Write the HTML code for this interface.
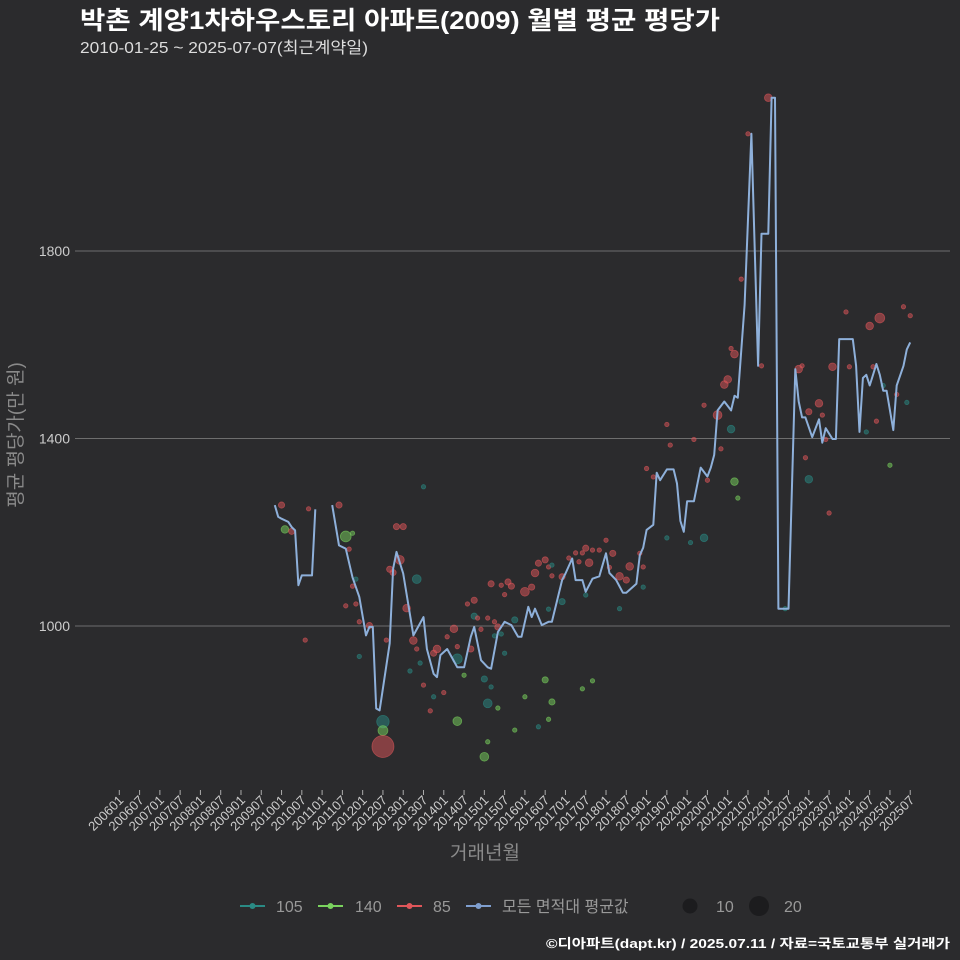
<!DOCTYPE html>
<html><head><meta charset="utf-8">
<style>
html,body{margin:0;padding:0;background:#2b2b2d;}
svg{display:block;font-family:"Liberation Sans","Noto Sans CJK KR",sans-serif;}
</style></head>
<body>
<svg id="chart" width="960" height="960" viewBox="0 0 960 960">
<rect x="0" y="0" width="960" height="960" fill="#2b2b2d"/>
<text x="80" y="29" font-size="25" font-weight="bold" fill="#ffffff" textLength="640" lengthAdjust="spacingAndGlyphs">박촌 계양1차하우스토리 아파트(2009) 월별 평균 평당가</text>
<text x="80" y="53" font-size="16" fill="#dddddd" textLength="288" lengthAdjust="spacingAndGlyphs">2010-01-25 ~ 2025-07-07(최근계약일)</text>
<g id="grid"></g>
<g id="yticks"></g>
<g id="xticks"></g>
<g id="points"></g>
<g id="line"></g>
<text transform="translate(22,435) rotate(-90)" text-anchor="middle" font-size="19" fill="#8a8a8a">평균 평당가(만 원)</text>
<text x="485" y="859" text-anchor="middle" font-size="19" fill="#8a8a8a">거래년월</text>
<g>
 <g><line x1="240" y1="906" x2="265" y2="906" stroke="#2a8a84" stroke-width="2"/><circle cx="252.5" cy="906" r="3" fill="#2a8a84"/><text x="276" y="912" font-size="16" fill="#999">105</text></g>
 <g><line x1="318" y1="906" x2="343" y2="906" stroke="#7ad35e" stroke-width="2"/><circle cx="330.5" cy="906" r="3" fill="#7ad35e"/><text x="355" y="912" font-size="16" fill="#999">140</text></g>
 <g><line x1="397" y1="906" x2="422" y2="906" stroke="#e0565a" stroke-width="2"/><circle cx="409.5" cy="906" r="3" fill="#e0565a"/><text x="433" y="912" font-size="16" fill="#999">85</text></g>
 <g><line x1="466" y1="906" x2="491" y2="906" stroke="#7f9fcf" stroke-width="2"/><circle cx="478.5" cy="906" r="3" fill="#7f9fcf"/><text x="502" y="912" font-size="16" fill="#999">모든 면적대 평균값</text></g>
 <g><circle cx="690" cy="906" r="7.5" fill="#1c1c1e"/><text x="716" y="912" font-size="16" fill="#999">10</text></g>
 <g><circle cx="759" cy="906" r="10" fill="#1c1c1e"/><text x="784" y="912" font-size="16" fill="#999">20</text></g>
</g>
<text x="950" y="948" text-anchor="end" font-size="13" font-weight="bold" fill="#ffffff" textLength="404" lengthAdjust="spacingAndGlyphs">©디아파트(dapt.kr) / 2025.07.11 / 자료=국토교통부 실거래가</text>
</svg>
<script>
// months are indices since 2006-01
const yTicks = [1000, 1400, 1800];
const lineMonth = [46,47,48,50,51,52,53,54,57,58,60,63,65,67,69,71,73,74,75,76,77,80,81,82,84,87,90,91,93,94,95,97,100,102,104,105,107,109,110,112,114,116,118,119,121,122,123,125,127,128,131,132,134,135,137,138,140,142,144,145,147,149,150,153,154,155,156,158,159,160,162,164,165,166,167,168,170,172,174,175,176,177,179,181,182,183,185,187,189,190,192,193,194,195,198,200,201,202,203,205,207,208,209,211,212,213,217,218,219,220,221,222,224,225,226,227,229,230,232,233,234];
const lineValue = [1258,1233,1229,1222,1211,1204,1087,1108,1108,1249,null,1258,1172,1165,1104,1062,980,998,998,824,820,963,1122,1158,1112,980,1019,951,898,891,938,951,912,912,977,998,927,912,909,987,1009,1002,977,977,1041,1019,1037,1002,1009,1009,1098,1112,1144,1098,1098,1073,1101,1106,1155,1113,1098,1071,1071,1090,1151,1167,1205,1216,1327,1311,1334,1334,1304,1224,1201,1266,1266,1338,1319,1338,1365,1460,1479,1460,1491,1487,1685,2050,1555,1837,1837,2127,2127,1037,1037,1548,1479,1445,1445,1403,1441,1391,1422,1399,1399,1612,1612,1555,1414,1529,1536,1513,1559,1536,1502,1502,1418,1513,1555,1590,1605];
// scatter: month, value, area type, count
const ptMonth = [48,56,49,51,65,67,69,68,70,69,67,70,71,74,55,71,79,82,84,83,80,81,88,90,85,87,88,86,89,90,93,92,96,94,93,97,99,100,100,102,100,103,105,105,106,109,107,104,108,110,109,112,109,108,110,113,115,116,114,111,112,111,113,117,114,120,122,117,120,124,126,127,128,123,124,126,127,128,128,127,131,131,133,135,137,136,138,139,140,142,137,140,138,144,146,151,148,150,145,155,154,156,158,155,148,162,163,162,169,173,170,173,174,177,178,179,180,181,182,181,182,183,184,186,190,192,201,202,204,207,208,203,204,210,209,211,215,216,222,225,223,221,224,226,228,230,232,234,233,197,78,78,78];
const ptValue = [1258,1250,1206,1202,1258,1191,1198,1164,1100,1085,1043,1047,1009,1001,970,935,970,1212,1212,1141,1121,1114,1100,1297,1038,969,951,904,921,874,849,819,858,951,942,977,994,956,930,895,797,1047,1055,1021,1017,1017,993,951,887,870,835,825,753,721,1090,1087,1094,1085,1067,1009,998,979,983,1013,942,1073,1083,778,849,785,885,801,838,1113,1134,1141,1126,1107,1130,1036,1105,1052,1145,1156,1156,1137,1166,1135,1162,1162,866,883,1066,1183,1155,1127,1106,1098,1125,1126,1155,1336,1318,1083,1037,1430,1386,1188,1178,1188,1398,1471,1311,1450,1378,1515,1526,1592,1580,1420,1308,1273,1740,2050,1555,2127,1548,1555,1457,1475,1450,1359,1313,1241,1398,1553,1670,1553,1640,1657,1553,1414,1437,1513,1343,1494,1681,1662,1477,1037,796,777,743];
const ptType = ["85","85","140","85","85","140","140","85","105","85","85","85","85","85","85","105","85","85","85","85","85","85","105","105","85","85","85","105","105","85","105","85","85","85","85","85","85","85","105","140","140","85","85","105","85","85","85","85","105","105","105","140","140","140","85","85","85","85","85","85","85","105","105","105","105","85","85","140","140","105","140","140","140","85","85","85","85","85","105","105","85","105","85","85","85","85","85","85","85","85","140","140","105","85","85","85","85","85","85","85","85","85","85","105","105","85","85","105","105","105","85","85","85","85","85","85","85","85","85","105","140","140","85","85","85","85","85","85","85","85","85","85","105","85","85","85","85","85","85","85","85","105","85","105","140","85","85","85","105","105","105","140","85"];
const ptCount = [2,1,3,2,2,6,1,1,1,1,1,1,1,2,1,1,1,2,2,4,2,2,4,1,3,3,1,1,1,1,1,1,1,3,2,1,3,1,5,1,4,1,2,2,1,1,1,2,2,1,4,1,1,4,2,1,2,2,1,1,2,1,1,2,1,4,2,1,1,1,2,1,2,3,2,2,1,1,1,1,2,2,1,1,1,1,2,3,1,1,1,1,1,1,2,3,3,2,1,1,1,1,1,1,1,1,1,1,1,3,1,1,1,4,1,3,3,1,3,3,3,1,1,1,1,3,3,1,2,3,1,1,3,1,1,3,1,1,3,5,1,1,1,1,1,1,1,1,1,1,8,5,25];

const S = "http://www.w3.org/2000/svg";
const X0 = 119.3, DX = 3.38;
function xs(m){ return X0 + m*DX; }
function ys(v){ return 626 - (v-1000)*0.46875; }
const colors = {"105":"#2a8a84","140":"#7ad35e","85":"#e0565a"};
function mk(tag, attrs, parent){ const e=document.createElementNS(S,tag); for(const k in attrs) e.setAttribute(k, attrs[k]); parent.appendChild(e); return e; }

const grid = document.getElementById('grid'), yt = document.getElementById('yticks');
yTicks.forEach(v=>{
  const l = mk('line',{x1:75,x2:950,y1:ys(v),y2:ys(v),stroke:'#6e6e6e','stroke-width':1},grid);
  
  
  const t = mk('text',{x:70,y:ys(v)+5,'text-anchor':'end','font-size':14,fill:'#cccccc'},yt);
  t.textContent = v;
  
  
});
const xt = document.getElementById('xticks');
for(let m=0; m<=234; m+=6){
  const x = xs(m);
  const tk = mk('line',{x1:x,x2:x,y1:790,y2:795,stroke:'#aaaaaa','stroke-width':1},xt);
  
  
  const lab = (2006+Math.floor(m/12)) + String(m%12+1).padStart(2,'0');
  const t = mk('text',{transform:`translate(${x+5},801) rotate(-45)`,'text-anchor':'end','font-size':13,fill:'#cccccc'},xt);
  t.textContent = lab;
  
  
}
const pg = document.getElementById('points');
for(let i=0;i<ptMonth.length;i++){
  const c = colors[ptType[i]];
  const p = mk('circle',{cx:xs(ptMonth[i]),cy:ys(ptValue[i]),r:2.2*Math.sqrt(ptCount[i]),fill:c,'fill-opacity':0.5,stroke:c,'stroke-opacity':0.6,'stroke-width':0.8},pg);
  
  
}
const lg = document.getElementById('line');
let d='', pen=false;
for(let i=0;i<lineMonth.length;i++){
  if(lineValue[i]===null){ pen=false; continue; }
  d += (pen?'L':'M') + xs(lineMonth[i]).toFixed(1) + ',' + ys(lineValue[i]).toFixed(1);
  pen=true;
}
const path = mk('path',{d:d,fill:'none',stroke:'#8eb0da','stroke-width':2,'stroke-linejoin':'round'},lg);


</script>
</body></html>
